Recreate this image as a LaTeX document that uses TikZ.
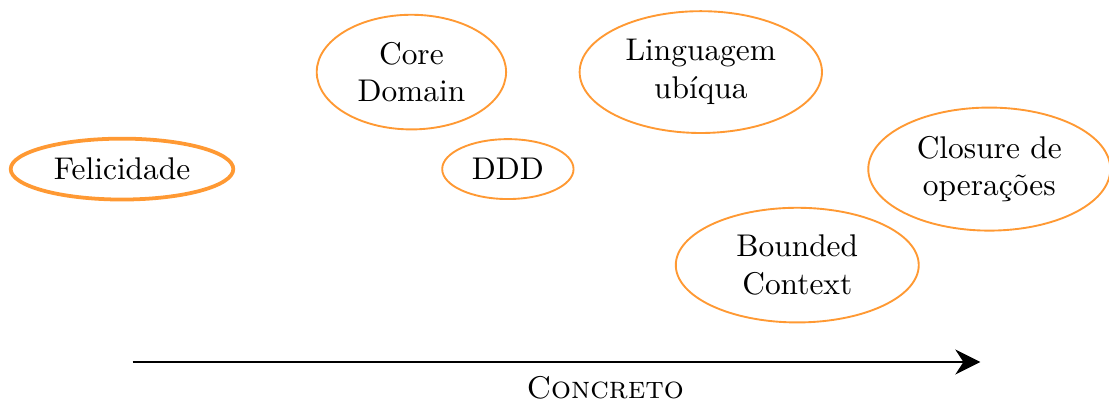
\documentclass[tikz,border=0pt]{standalone}
\usepackage{tikz}
\usetikzlibrary{positioning,shapes.geometric,arrows.meta}
\usepackage{xcolor}

\begin{document}
\begin{tikzpicture}[idea/.style={draw=orange!80, ellipse, semithick, align=center}]
    \useasboundingbox (-1.366,-2.62) rectangle (11.05,1.893);
    \node (felicidade) [idea, very thick] at (0,0) {Felicidade};
    \node (core) [idea, minimum width=2.12cm] at (3.24,1.086) {Core\\Domain};
    \node (ddd) [idea] at (4.32,0) {DDD};
    \node (linguagem) [idea] at (6.48,1.086) {Linguagem\\ubíqua};
    \node (closure) [idea, minimum width=2.71cm] at (9.71,0) {Closure de\\operações};
    \node (bounded) [idea, minimum width=2.72cm] at (7.56,-1.075) {Bounded\\Context};

    % eixo
    \coordinate (inicio) at (0.12,-2.16);
    \coordinate (fim) at (9.61,-2.16);
    \draw [-{Stealth[length=8pt,width=8pt]}] (inicio) -- (fim);
    \node (concreto) at (5.41,-2.45) {\textsc{Concreto}};
\end{tikzpicture}
\end{document}
